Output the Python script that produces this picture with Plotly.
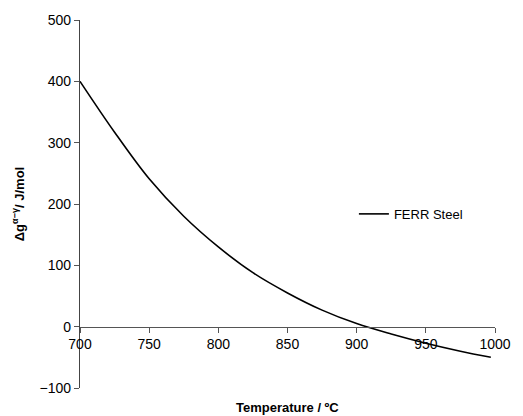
import plotly.graph_objects as go

temperature = [700, 725, 750, 775, 800, 825, 850, 875, 900, 925, 950, 975, 997]
delta_g = [400, 317, 241, 180, 130, 88, 55, 27, 5, -12, -27, -40, -50]
series_name = "FERR Steel"
x_ticks = [700, 750, 800, 850, 900, 950, 1000]
y_ticks = [-100, 0, 100, 200, 300, 400, 500]

FONT = "Liberation Sans, Arial, sans-serif"

fig = go.Figure()
fig.add_trace(go.Scatter(
    x=temperature, y=delta_g, mode="lines", name=series_name,
    line=dict(color="black", width=1.6, shape="spline"),
))

fig.update_layout(
    width=523, height=416,
    margin=dict(l=80, r=20, t=18, b=28),
    paper_bgcolor="white", plot_bgcolor="white",
    font=dict(family=FONT, color="black", size=14),
    showlegend=True,
    legend=dict(x=0.66, y=0.473, xanchor="left", yanchor="middle",
                bgcolor="rgba(0,0,0,0)", font=dict(size=13, family=FONT)),
    xaxis=dict(
        range=[700, 1000], tickvals=x_ticks, ticktext=[str(v) for v in x_ticks],
        anchor="free", position=1/6, showline=True, linecolor="#555", linewidth=1,
        ticks="outside", ticklen=5, tickcolor="#555", showgrid=False, zeroline=False,
        tickfont=dict(size=14, family=FONT), ticklabeloverflow="allow",
    ),
    yaxis=dict(
        range=[-100, 500], tickvals=y_ticks, showline=True, linecolor="#444", linewidth=1.2,
        ticks="outside", ticklen=5, tickcolor="#555", showgrid=False, zeroline=False,
        tickfont=dict(size=14, family=FONT),
        title=dict(text="<b>Δg<sup>α−γ</sup>/ J/mol</b>", font=dict(size=13, family=FONT), standoff=12),
    ),
    annotations=[dict(
        text="<b>Temperature / ºC</b>", xref="paper", yref="paper", x=0.5, y=-0.054,
        xanchor="center", yanchor="middle", showarrow=False, font=dict(size=13, family=FONT),
    )],
)

fig.write_html("out.html", config={"displayModeBar": False},
               post_script="document.body.style.margin='0';document.body.style.overflow='hidden';")
